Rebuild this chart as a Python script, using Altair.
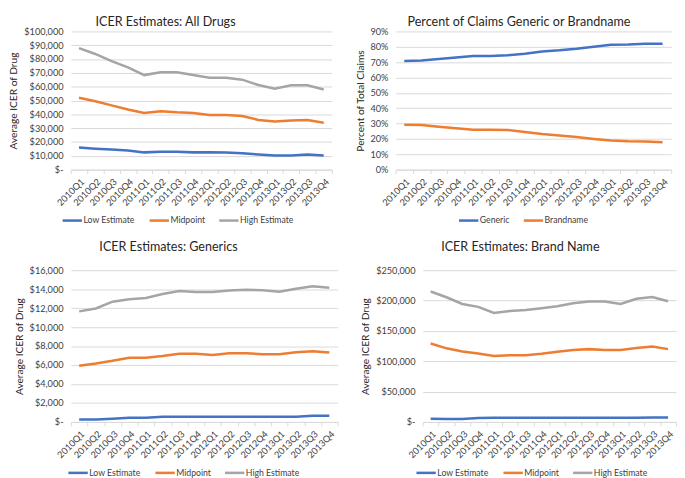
import altair as alt
import pandas as pd

quarters = ["2010Q1", "2010Q2", "2010Q3", "2010Q4", "2011Q1", "2011Q2", "2011Q3", "2011Q4",
            "2012Q1", "2012Q2", "2012Q3", "2012Q4", "2013Q1", "2013Q2", "2013Q3", "2013Q4"]

est_names = ["Low Estimate", "Midpoint", "High Estimate"]
claim_names = ["Generic", "Brandname"]

all_low = [16000, 15200, 14500, 13800, 12500, 13000, 13000, 12500, 12500, 12400, 11800, 11000, 10300, 10300, 11000, 10300]
all_mid = [52000, 49500, 46500, 43500, 41000, 42300, 41500, 41000, 39500, 39500, 38800, 36000, 34900, 35500, 36000, 34000]
all_high = [87900, 83700, 78500, 74000, 68400, 70500, 70500, 68400, 66500, 66500, 65100, 61200, 58600, 61000, 61000, 58000]

pct_generic = [0.708, 0.710, 0.720, 0.730, 0.740, 0.740, 0.745, 0.755, 0.770, 0.777, 0.787, 0.800, 0.813, 0.815, 0.820, 0.820]
pct_brand = [0.292, 0.290, 0.280, 0.270, 0.260, 0.260, 0.258, 0.245, 0.232, 0.222, 0.212, 0.200, 0.190, 0.185, 0.183, 0.178]

gen_low = [250, 250, 350, 450, 450, 550, 550, 550, 550, 550, 550, 550, 550, 550, 650, 650]
gen_mid = [5930, 6170, 6450, 6780, 6780, 6950, 7190, 7190, 7050, 7250, 7250, 7150, 7150, 7350, 7460, 7320]
gen_high = [11660, 11970, 12680, 12950, 13080, 13490, 13800, 13700, 13700, 13860, 13950, 13880, 13730, 14050, 14300, 14140]

brand_low = [5300, 5000, 5000, 6500, 7000, 7000, 7000, 7000, 7000, 7000, 7000, 7000, 7000, 7000, 7200, 7500]
brand_mid = [129200, 121300, 116000, 112800, 108500, 110000, 110000, 112300, 115500, 118600, 120000, 118500, 118500, 121800, 124500, 120000]
brand_high = [215000, 205500, 194400, 189600, 179600, 182700, 184300, 187500, 190700, 195400, 198600, 198600, 194400, 202900, 206000, 199000]

BLUE, ORANGE, GRAY = "#4472C4", "#ED7D31", "#A5A5A5"
FONT = "Lato"
TXT = "#404040"

DOLLAR = "datum.value == 0 ? '$-' : '$' + format(datum.value, ',')"
PCT = "format(datum.value, '.0%')"


def panel(names, values, colors, title, title_dx, title_offset, ytitle, ymax, yticks, label_expr,
          width, height, legend_x, legend_y):
    rows = []
    for name, vals in zip(names, values):
        for q, v in zip(quarters, vals):
            rows.append({"quarter": q, "series": name, "value": v})
    df = pd.DataFrame(rows)
    return alt.Chart(
        df,
        title=alt.Title(title, dx=title_dx, offset=title_offset, fontSize=13, font=FONT,
                        fontWeight="normal", color="#262626", anchor="middle"),
    ).mark_line(strokeWidth=2.6).encode(
        x=alt.X("quarter:O", sort=quarters, bandPosition=0.5,
                scale=alt.Scale(type="band", paddingInner=0, paddingOuter=0),
                axis=alt.Axis(title=None, labelAngle=-45, tickBand="extent", tickSize=4,
                              tickColor="#D9D9D9", domainColor="#D9D9D9", labelFontSize=9.5,
                              labelFont=FONT, labelColor=TXT, labelPadding=3, grid=False)),
        y=alt.Y("value:Q", scale=alt.Scale(domain=[0, ymax], nice=False, zero=True),
                axis=alt.Axis(values=yticks, labelExpr=label_expr, title=ytitle, domain=False,
                              ticks=False, grid=True, gridColor="#D9D9D9", labelFontSize=9.5,
                              labelFont=FONT, labelColor=TXT, labelPadding=8, titleFont=FONT,
                              titleFontSize=10.5, titleFontWeight="normal", titleColor="#262626",
                              titlePadding=5)),
        color=alt.Color("series:N", sort=names,
                        scale=alt.Scale(domain=names, range=colors),
                        legend=alt.Legend(title=None, orient="none", legendX=legend_x, legendY=legend_y,
                                          direction="horizontal", symbolType="stroke",
                                          symbolStrokeWidth=2.6, symbolSize=400, labelFont=FONT,
                                          labelFontSize=9, labelColor=TXT, labelOffset=0,
                                          columnPadding=9, padding=0)),
    ).properties(width=width, height=height)


tl = panel(est_names, [all_low, all_mid, all_high], [BLUE, ORANGE, GRAY],
           "ICER Estimates: All Drugs", -37, -2, "Average ICER of Drug", 100000,
           list(range(0, 100001, 10000)), DOLLAR, 270, 143, -10, 184)
tr = panel(claim_names, [pct_generic, pct_brand], [BLUE, ORANGE],
           "Percent of Claims Generic or Brandname", -15, -2, "Percent of Total Claims", 0.9,
           [i / 10 for i in range(10)], PCT, 285, 143, 64, 184)
bl = panel(est_names, [gen_low, gen_mid, gen_high], [BLUE, ORANGE, GRAY],
           "ICER Estimates: Generics", -37, 12, "Average ICER of Drug", 16000,
           list(range(0, 16001, 2000)), DOLLAR, 276, 157, -4, 198)
br = panel(est_names, [brand_low, brand_mid, brand_high], [BLUE, ORANGE, GRAY],
           "ICER Estimates: Brand Name", -30, 12, "Average ICER of Drug", 250000,
           list(range(0, 250001, 50000)), DOLLAR, 262, 157, -8, 198)

top = alt.hconcat(tl, tr, spacing=23).resolve_scale(color="independent").resolve_legend(color="independent")
bottom = alt.hconcat(bl, br, spacing=23).resolve_scale(color="independent").resolve_legend(color="independent")

chart = alt.vconcat(top, bottom, spacing=16).resolve_scale(
    color="independent").resolve_legend(color="independent").properties(
    padding={"left": 1, "top": 0, "right": 0, "bottom": 0}).configure_view(stroke=None)

chart.save("out.html", embed_options={"renderer": "svg", "actions": False})
